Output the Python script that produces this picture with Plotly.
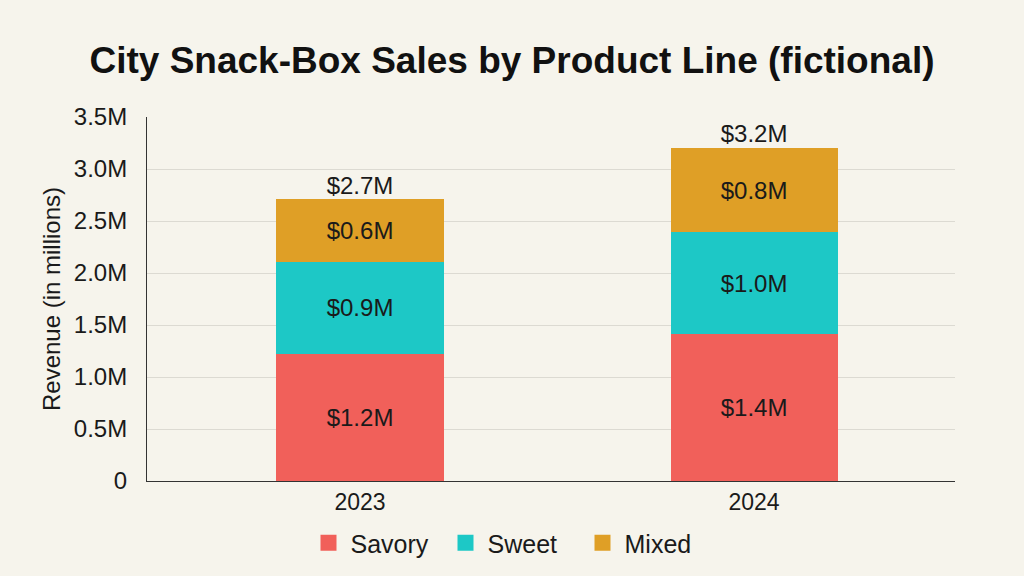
import plotly.graph_objects as go

years = ["2023", "2024"]
savory = [1.22, 1.41]
sweet = [0.89, 0.98]
mixed = [0.60, 0.81]
totals = [round(a + b + c, 1) for a, b, c in zip(savory, sweet, mixed)]
tick_vals = [0, 0.5, 1.0, 1.5, 2.0, 2.5, 3.0, 3.5]
tick_text = ["0", "0.5M", "1.0M", "1.5M", "2.0M", "2.5M", "3.0M", "3.5M"]

FONT = "Liberation Sans, Arial, sans-serif"
fig = go.Figure()
series = [("Savory", savory, "#F1605A"), ("Sweet", sweet, "#1DC8C6"), ("Mixed", mixed, "#DF9F26")]
for name, vals, col in series:
    fig.add_trace(go.Bar(
        x=years, y=vals, name=name, marker=dict(color=col, line=dict(width=0)),
        text=[f"${v:.1f}M" for v in vals], textposition="inside", insidetextanchor="middle",
        textfont=dict(size=24, color="#1a1a1a", family=FONT), showlegend=False,
    ))
    fig.add_trace(go.Scatter(
        x=[None], y=[None], mode="markers", name=name,
        marker=dict(symbol="square", size=22, color=col), showlegend=True, hoverinfo="skip",
    ))
fig.add_trace(go.Scatter(
    x=years, y=totals, mode="text", text=[f"${t:.1f}M" for t in totals],
    textposition="top center", textfont=dict(size=24, color="#1a1a1a", family=FONT),
    showlegend=False, hoverinfo="skip",
))
fig.update_layout(
    width=1024, height=576, barmode="stack", bargap=0.576,
    paper_bgcolor="#F6F4EC", plot_bgcolor="#F6F4EC",
    font=dict(family=FONT, color="#1a1a1a"),
    margin=dict(l=147, r=69, t=117, b=95, autoexpand=False),
    title=dict(text="<b>City Snack-Box Sales by Product Line (fictional)</b>", x=0.5, xanchor="center",
               xref="container", yref="container", y=1 - 60 / 576, yanchor="middle",
               font=dict(size=37, family=FONT, color="#111")),
    legend=dict(orientation="h", xref="container", x=0.5, xanchor="center", yref="container",
                y=1 - 543 / 576, yanchor="middle", font=dict(size=25, family=FONT),
                traceorder="normal", itemsizing="trace", itemwidth=34,
                entrywidth=88, entrywidthmode="pixels", bgcolor="rgba(0,0,0,0)"),
)
fig.update_yaxes(range=[0, 3.5], tickvals=tick_vals, ticktext=tick_text, showgrid=True,
                 gridcolor="#DCDAD2", gridwidth=1, showline=True, linecolor="#333", linewidth=1,
                 tickfont=dict(size=24), ticks="", ticklabelstandoff=14, automargin=False,
                 title=dict(text="Revenue (in millions)", font=dict(size=24), standoff=6),
                 zeroline=False)
fig.update_xaxes(range=[-0.5406, 1.51], showline=True, linecolor="#333", linewidth=1,
                 tickfont=dict(size=23), ticks="", automargin=False)
fig.write_html("out.html")
